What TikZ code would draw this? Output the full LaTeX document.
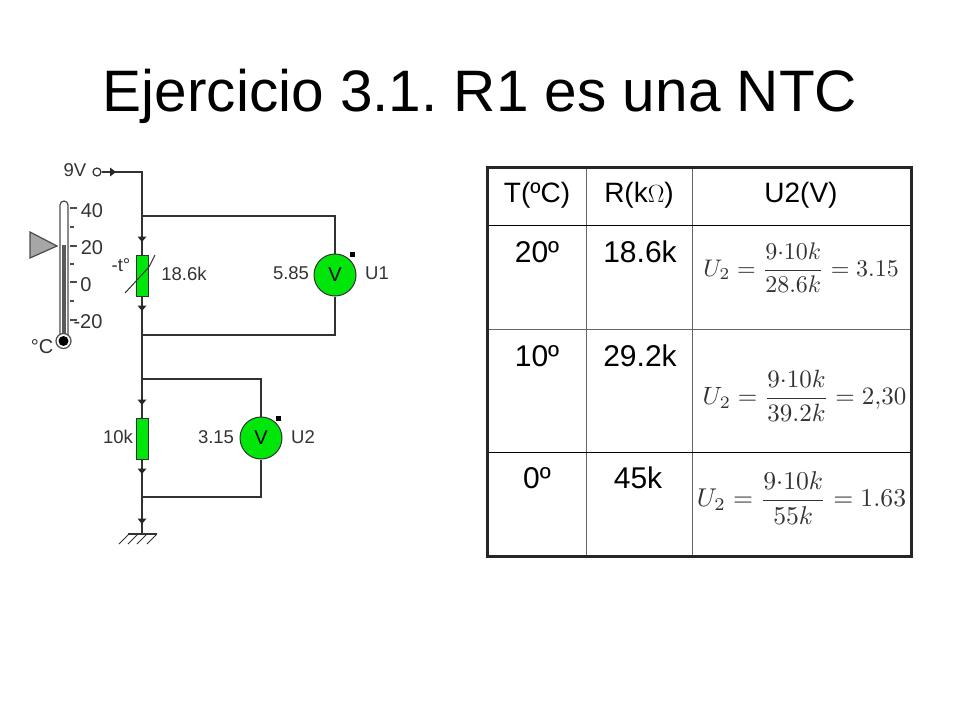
\documentclass[tikz,border=0pt]{standalone}
\usepackage{amsmath}
\usepackage{fontspec}
\setmainfont{Liberation Sans}
\frenchspacing
\definecolor{meter}{RGB}{0,230,10}
\definecolor{wirecol}{RGB}{50,50,50}
\tikzset{
  wire/.style={draw=wirecol, line width=1.5pt},
  resbox/.style={draw=wirecol, fill=meter, line width=1pt, minimum width=12pt, minimum height=41pt, inner sep=0pt},
  vmeter/.style={circle, draw=wirecol, fill=meter, line width=1pt, minimum size=42pt, inner sep=0pt, font=\fontsize{20}{20}\selectfont},
  cirtext/.style={text=black!80, inner sep=0pt, font=\fontsize{18.5}{18.5}\selectfont},
  thermtext/.style={text=black!80, inner sep=0pt, font=\fontsize{20}{20}\selectfont},
  headcell/.style={anchor=base, inner sep=0pt, font=\fontsize{28}{28}\selectfont},
  valcell/.style={anchor=base, inner sep=0pt, font=\fontsize{30}{30}\selectfont},
  formula/.style={inner sep=0pt, text=black!80}
}
\begin{document}
\begin{tikzpicture}[x=1pt, y=-1pt]
\useasboundingbox (0,0) rectangle (960,720);
\fill[white] (0,0) rectangle (960,720);

\node[anchor=base, inner sep=0pt, font=\fontsize{58.5}{60}\selectfont] (title) at (480,111) {Ejercicio 3.1. R1 es una NTC};

\node[circle, draw=wirecol, line width=1.2pt, minimum size=8pt, inner sep=0pt] (vin) at (97,172) {};
\node[cirtext] (vinlabel) at (75,170) {9V};
\node[resbox] (r1) at (142,275.5) {};
\node[resbox] (r2) at (142,438.5) {};
\node[vmeter] (u1) at (335,275) {V};
\node[vmeter] (u2) at (261,438) {V};
\node[cirtext] (r1label) at (184,274) {18.6k};
\node[cirtext] (tlabel) at (121,265) {-t°};
\node[cirtext] (r2label) at (118,437) {10k};
\node[cirtext] (u1value) at (291,273) {5.85};
\node[cirtext] (u1label) at (377,273) {U1};
\node[cirtext] (u2value) at (216,437) {3.15};
\node[cirtext] (u2label) at (303,437) {U2};

\coordinate (c0) at (142,172);
\coordinate (j1) at (142,216);
\coordinate (k1) at (335,216);
\coordinate (k2) at (335,335);
\coordinate (j2) at (142,335);
\coordinate (j3) at (142,379);
\coordinate (k3) at (261,379);
\coordinate (k4) at (261,497);
\coordinate (j4) at (142,497);
\coordinate (gnd) at (142,534);

\draw[wire] (vin) -- (c0) -- (j1) -- (k1) -- (u1);
\draw[wire] (u1) -- (k2) -- (j2);
\draw[wire] (j1) -- (r1);
\draw[wire] (r1) -- (j2) -- (j3) -- (k3) -- (u2);
\draw[wire] (u2) -- (k4) -- (j4);
\draw[wire] (j3) -- (r2);
\draw[wire] (r2) -- (j4) -- (gnd);

\foreach \tipy in {239,308,402,471,521}
  \fill[black!85] (137.5,\tipy-2.5) -- (146.5,\tipy-2.5) -- (142,\tipy+3) -- cycle;
\fill[black!85] (110,167.5) -- (110,176.5) -- (116,172) -- cycle;

\draw[wirecol, line width=1pt] (125,293) -- (149,267) -- (155,255);
\fill[black] (349.5,251.5) rectangle (354.5,256.5);
\fill[black] (275.5,415.5) rectangle (280.5,420.5);

\draw[wirecol, line width=1.2pt] (128,534) -- (157,534);
\foreach \gx in {119,128,137,147}
  \draw[wirecol, line width=1pt] (\gx,544) -- (\gx+10,534);

\draw[black!70, line width=1.2pt, fill=white] (60,338) -- (60,205) arc (180:360:4) -- (68,338);
\fill[black!65] (62,245) rectangle (66,338);
\draw[black!70, line width=1.2pt, fill=white] (63.5,341) circle (7.5);
\fill[black] (63.5,341) circle (5);
\fill[black!35, draw=black!70, line width=1.2pt] (30,232) -- (30,258) -- (57,246) -- cycle;
\foreach \ticky in {208,246,282,320}
  \draw[black!70, line width=1.2pt] (70,\ticky) -- (77,\ticky);
\foreach \ticky in {227,264,301}
  \draw[black!70, line width=1.2pt] (70,\ticky) -- (74,\ticky);
\node[thermtext] (t40) at (92,211) {40};
\node[thermtext] (t20) at (92,248) {20};
\node[thermtext] (t0) at (86,285) {0};
\node[thermtext] (tm20) at (88,322) {-20};
\node[thermtext] (tunit) at (42,347) {°C};

\node[headcell] (h1) at (537,202) {T(ºC)};
\node[headcell] (h2) at (639,202) {R(k$\Omega$)};
\node[headcell] (h3) at (801,202) {U2(V)};
\node[valcell] (t1) at (537,262) {20º};
\node[valcell] (r1val) at (640,262) {18.6k};
\node[valcell] (t2) at (537,366) {10º};
\node[valcell] (r2val) at (640,366) {29.2k};
\node[valcell] (t3) at (537,488) {0º};
\node[valcell] (r3val) at (638,488) {45k};
\node[formula, scale=2.4] (f1) at (801,268) {$U_2=\dfrac{9{\cdot}10k}{28.6k}=3.15$};
\node[formula, scale=2.5] (f2) at (804.5,396) {$U_2=\dfrac{9{\cdot}10k}{39.2k}=2{,}30$};
\node[formula, scale=2.57] (f3) at (801.5,498) {$U_2=\dfrac{9{\cdot}10k}{55k}=1.63$};

\draw[black!60, line width=1pt] (586,167) -- (586,556);
\draw[black!60, line width=1pt] (692,167) -- (692,556);
\draw[black, line width=1pt] (487,225) -- (911,225);
\draw[black!60, line width=1pt] (487,329) -- (911,329);
\draw[black, line width=1pt] (487,452) -- (911,452);
\draw[black!85, line width=3pt] (487,167) rectangle (911,556);
\end{tikzpicture}
\end{document}
